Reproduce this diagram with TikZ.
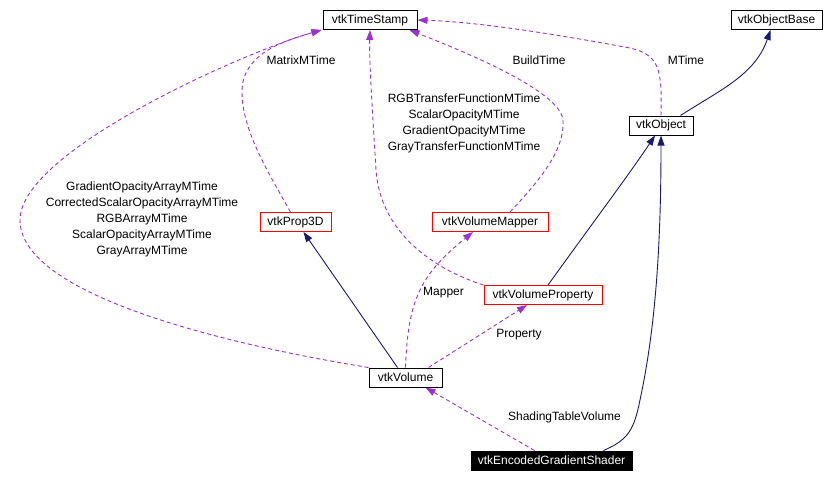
\documentclass[tikz,border=0pt]{standalone}
\usepackage{fontspec}
\setmainfont{Liberation Sans}
\usepackage{xcolor}
\usepackage{tikz}
\usetikzlibrary{arrows.meta}

\definecolor{usecol}{HTML}{9A32CD}
\definecolor{inhcol}{HTML}{191970}

\begin{document}
\begin{tikzpicture}[
    x=1pt, y=-1pt,
    cls/.style  = {rectangle, draw=black, line width=1pt, inner sep=0pt,
                   minimum height=19pt, font=\fontsize{12}{16}\selectfont},
    ref/.style  = {cls, draw=red},
    sel/.style  = {cls, fill=black, text=white},
    lbl/.style  = {align=center, inner sep=0pt, font=\fontsize{12}{16}\selectfont},
    inh/.style  = {-{Triangle[length=10pt,width=7pt]}, line width=0.9pt, inhcol},
    use/.style  = {-{Triangle[length=10pt,width=7pt]}, line width=0.9pt, usecol,
                   dash pattern=on 4pt off 3pt}
]
\useasboundingbox (0,0) rectangle (824,482);

% Classes
\node[cls, minimum width=94pt]  (ts)   at (370,20)    {vtkTimeStamp};
\node[cls, minimum width=91pt]  (ob)   at (776.5,20)  {vtkObjectBase};
\node[cls, minimum width=64pt]  (obj)  at (661,125.5) {vtkObject};
\node[ref, minimum width=71pt]  (p3d)  at (295.5,222) {vtkProp3D};
\node[ref, minimum width=116pt] (vm)   at (490,222)   {vtkVolumeMapper};
\node[ref, minimum width=118pt] (vp)   at (543,295)   {vtkVolumeProperty};
\node[cls, minimum width=73pt]  (vol)  at (405.5,377.5) {vtkVolume};
\node[sel, minimum width=161pt] (egs)  at (551.5,460.5) {vtkEncodedGradientShader};

% Labels
\node[lbl] (lmat)   at (301,60)    {MatrixMTime};
\node[lbl] (lbuild) at (539,60)    {BuildTime};
\node[lbl] (lmt)    at (686,60)    {MTime};
\node[lbl] (lrgb)   at (464,123.5) {RGBTransferFunctionMTime\\ScalarOpacityMTime\\GradientOpacityMTime\\GrayTransferFunctionMTime};
\node[lbl] (larr)   at (142,219.5) {GradientOpacityArrayMTime\\CorrectedScalarOpacityArrayMTime\\RGBArrayMTime\\ScalarOpacityArrayMTime\\GrayArrayMTime};
\node[lbl] (lmap)   at (443.5,293) {Mapper};
\node[lbl] (lprop)  at (519,335)   {Property};
\node[lbl] (lshade) at (564.5,417) {ShadingTableVolume};

% Inheritance
\draw[inh] ([xshift=-13pt]obj.north east) .. controls (720,90) and (755,75) .. ([xshift=-6pt]ob.south);
\draw[inh] ([xshift=-8pt]vol.north) -- ([xshift=8pt]p3d.south);
\draw[inh] ([xshift=5pt]vp.north) .. controls (600,213) and (630,173) .. ([xshift=-6pt]obj.south);
\draw[inh] ([xshift=52pt]egs.north) .. controls (628,440) and (634,430) .. (640,400)
           .. controls (655,330) and (661,250) .. (obj.south);

% Usage
\draw[use] (vol.north west) .. controls (200,340) and (20,290) .. (20,220)
           .. controls (20,150) and (250,50) .. ([xshift=-1pt]ts.south west);
\draw[use] ([xshift=-5pt]p3d.north) .. controls (268,172) and (242,130) .. (242,92)
           .. controls (242,55) and (280,42) .. ([xshift=-1pt]ts.south west);
\draw[use] (vp.north west) .. controls (430,268) and (380,230) .. (376,170)
           .. controls (373,120) and (369,60) .. (ts.south);
\draw[use] ([xshift=20pt]vm.north) .. controls (540,180) and (565,150) .. (563,120)
           .. controls (560,90) and (460,50) .. ([xshift=-8pt]ts.south east);
\draw[use] (obj.north) .. controls (662,70) and (660,55) .. (630,48)
           .. controls (560,35) and (480,22) .. (ts.east);
\draw[use] (vol.north) .. controls (408,300) and (420,275) .. ([xshift=-17pt]vm.south);
\draw[use] ([xshift=23pt]vol.north) -- ([xshift=-16pt]vp.south);
\draw[use] ([xshift=-17pt]egs.north) -- ([xshift=20pt]vol.south);
\end{tikzpicture}
\end{document}
